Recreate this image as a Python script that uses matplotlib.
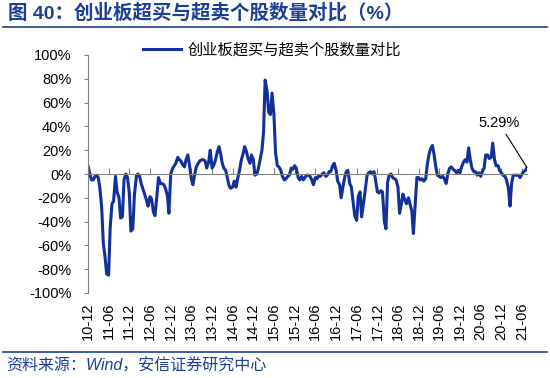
import matplotlib
matplotlib.use("Agg")
import matplotlib.pyplot as plt
from matplotlib.lines import Line2D
from matplotlib.ticker import FuncFormatter
import pandas as pd

plt.rcParams['font.family'] = ['Liberation Sans', 'Noto Sans CJK SC']

# semi-monthly readings, 2010-12 .. 2021-07 (%)
ratio = [
    6.7, 1, -5, -5, -2, -1, -3, -11, -28, -58,
    -70, -84, -85, -45, -25, -23, -2, -15, -20, -37,
    -36, -5, 0, -3, -16, -48, -46, -18, -2, 0,
    -2, -8, -13, -17, -22, -27, -19, -21, -32, -35,
    -18, -3, -8, -8, -9, -12, -18, -33, 0, 4,
    7, 9, 14, 12, 11, 8, 6, 12, 16, 8,
    -4, -9, 0, 6, 9, 11, 12, 12, 11, 5,
    10, 20, 5, 7, 12, 18, 23, 17, 9, 5,
    3, -3, -10, -12, -11, -6,
    -11, -4, 3, 11, 17, 23, 19, 13, 9, 16,
    12, -1, 0, 5, 13, 20, 35, 79, 70, 52,
    50, 68, 50, 18, 7, 6, 3, -2, -5, -4,
    -2, -1, 5, 4, 7, 5, -3, -5, -2, -5,
    -3, -1, -1, -2, -5, -9, -3, -4, -1, -2,
    0, 1, -2, -1, 2, 2, 7, 9, 3, -6,
    -9, -20, -10, -3, 2, 3, -8, -11, -24, -35,
    -39, -19, -15, -36, -24, -14, -1, 1, 2, 0,
    2, -5, -15,
    -16, -14, -15, -40, -46, -7, -1, 0, -3, -4,
    -5, -11, -33, -25, -17, -22, -25, -20, -25, -31,
    -50, -24, -3, -3, -5, -4, -6, -4, 8, 16,
    21, 24, 17, 6, -1, -2, -3, -2, -4, -8,
    0, 5, 6, 4, 3, 1, 3, 1, 6, 10,
    12, 10, 22, 12, 5, 2, 2, -1, 1, -2,
    2, 5, 16, 16, 13, 14, 26, 12, 7, 7,
    3, 1, -1, -2, -5, -12, -27, -8, -1, -1,
    -1, -1, -3, 0, 2, 3, 5.29,
]
dates = pd.date_range('2010-12-01', periods=len(ratio), freq='SMS')

tick_labels = ['10-12', '11-06', '11-12', '12-06', '12-12', '13-06', '13-12',
               '14-06', '14-12', '15-06', '15-12', '16-06', '16-12', '17-06',
               '17-12', '18-06', '18-12', '19-06', '19-12', '20-06', '20-12',
               '21-06']
tick_dates = pd.date_range('2010-12-01', periods=len(tick_labels), freq='6MS')

series_name = '创业板超买与超卖个股数量对比'
title = '图 40：创业板超买与超卖个股数量对比（%）'
source = '资料来源：Wind，安信证券研究中心'

BLUE = '#1b3f94'
LINE = '#12309a'
GRAY = '#808080'

fig = plt.figure(figsize=(5.5, 3.78), dpi=100)
W, H = 550, 378
ax = fig.add_axes([88 / W, 1 - 293 / H, (527 - 88) / W, (293 - 55) / H])

ax.plot(dates, ratio, color=LINE, lw=2.2, label=series_name)
ax.set_xlim(dates[0], dates[-1])
ax.set_ylim(-100, 100)
ax.set_yticks(range(-100, 101, 20))
ax.yaxis.set_major_formatter(FuncFormatter(lambda v, p: f'{v:.0f}%'))

for s in ['top', 'right']:
    ax.spines[s].set_visible(False)
ax.spines['left'].set_color(GRAY)
ax.spines['bottom'].set_position(('data', 0))
ax.spines['bottom'].set_color(GRAY)
ax.tick_params(axis='y', direction='out', length=3, color=GRAY, labelsize=10.5, pad=9)
ax.tick_params(axis='x', direction='in', length=4, color=GRAY, labelbottom=False)
ax.set_xticks(tick_dates)
for d, lab in zip(tick_dates, tick_labels):
    ax.text(d, -0.04, lab, transform=ax.get_xaxis_transform(), rotation=90,
            ha='center', va='top', fontsize=10.5)

ax.annotate(f'{ratio[-1]:.2f}%', xy=(dates[-1], ratio[-1]), xytext=(-20, 32),
            textcoords='offset points', ha='center', va='center', fontsize=10.5,
            arrowprops=dict(arrowstyle='-', color='black', lw=0.8, shrinkA=1, shrinkB=0))

fig.legend(loc='center left', bbox_to_anchor=(143 / W, 1 - 50 / H), frameon=False,
           borderpad=0, borderaxespad=0, handlelength=2.5, handletextpad=0.4,
           prop={'family': 'Noto Sans CJK SC', 'size': 11})

fig.text(8 / W, 1 - 13 / H, title, fontsize=14, fontweight='bold', color=BLUE,
         va='center', family=['Liberation Sans', 'Noto Sans CJK SC'])
fig.add_artist(Line2D([0.005, 0.995], [1 - 27 / H] * 2, transform=fig.transFigure,
                      color=BLUE, lw=1.2))
fig.add_artist(Line2D([0.005, 0.995], [1 - 352 / H] * 2, transform=fig.transFigure,
                      color=BLUE, lw=1.2))
fig.text(6 / W, 1 - 366 / H, source, fontsize=11.5, color=BLUE, style='italic',
         va='center', family=['Liberation Sans', 'Noto Sans CJK SC'])

fig.savefig('out.png', dpi=100)
